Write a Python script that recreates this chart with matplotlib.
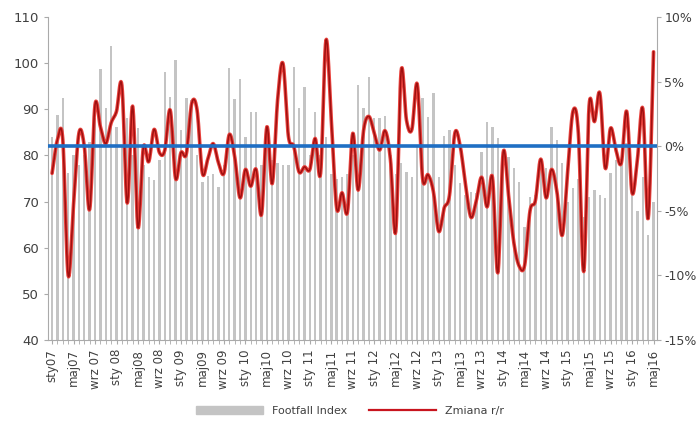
import numpy as np
import matplotlib
matplotlib.use("Agg")
import matplotlib.pyplot as plt
from matplotlib.lines import Line2D
from matplotlib.patches import Patch

# Footfall Index (left axis), monthly sty07 .. maj16
footfall = [84, 88.8, 92.4, 76.2, 80, 78, 80, 83, 88, 98.7, 90.3, 103.6,
            86.2, 82, 88.1, 80, 86, 78, 75.4, 74.7, 79, 98, 92.7, 100.7,
            85.5, 92.4, 92, 80, 74.3, 75.5, 75.9, 73.2, 78, 98.9, 92.2, 96.5,
            84, 89.3, 89.5, 78, 82, 79, 78.4, 78, 77.9, 99.2, 90.2, 94.9,
            80, 89.5, 80, 84, 76, 75, 75.4, 76, 80, 95.3, 90.3, 97,
            88, 88, 88.5, 80, 76, 78.4, 76.5, 75.4, 82, 92.4, 88.4, 93.5,
            75.4, 84.2, 85.5, 78, 74, 71.4, 72, 71.8, 80.8, 87.3, 86.2, 83.7,
            80.8, 79.7, 77.2, 74.3, 64.5, 71, 71.4, 79.4, 77.2, 86.2, 83.3, 78.3,
            70, 73, 75, 66.7, 71, 72.5, 71.4, 70.7, 76.1, 79, 78.3, 82.6,
            72, 68, 75.4, 62.8, 70]

# Zmiana r/r in % (right axis)
zmiana = [-2.1, 0.5, 0.5, -10.0, -4.5, 1.0, 0.0, -4.9, 3.2, 1.5, 0.2, 1.8,
          2.7, 4.7, -4.4, 3.1, -6.3, -0.1, -1.2, 1.3, -0.5, -0.3, 2.8, -2.5,
          -0.5, -0.6, 3.3, 2.8, -2.1, -1.0, 0.2, -1.3, -2.1, 0.9, -0.8, -4.0,
          -1.8, -3.1, -1.8, -5.3, 1.5, -2.9, 3.6, 6.4, 0.8, 0.0, -2.0, -1.6,
          -1.8, 0.6, -2.1, 8.2, 2.0, -4.8, -3.6, -5.1, 1.0, -3.4, 1.2, 2.3,
          1.0, -0.3, 1.2, -1.0, -6.6, 5.8, 2.0, 1.3, 4.8, -2.5, -2.2, -3.5,
          -6.6, -4.8, -3.8, 1.0, 0.0, -3.0, -5.5, -4.2, -2.4, -4.7, -2.4, -9.8,
          -0.5, -3.8, -7.5, -9.3, -9.2, -5.0, -4.2, -1.0, -4.0, -1.8, -3.5, -6.9,
          -2.0, 2.7, 1.0, -9.7, 3.1, 1.9, 4.1, -1.7, 1.4, -0.3, -1.3, 2.7,
          -3.6, -1.0, 2.9, -5.6, 7.3]

months = ["sty", "maj", "wrz"]
years = range(7, 17)
tick_labels = []
for y in years:
    for m in months:
        tick_labels.append(f"{m}{y:02d}" if m == "maj" else f"{m} {y:02d}")
tick_labels = tick_labels[:29]
tick_labels[0] = "sty07"


def smooth(x, y, n=12):
    # catmull-rom, like Excel's smoothed line
    x = np.asarray(x, float)
    y = np.asarray(y, float)
    px = np.concatenate([[2 * x[0] - x[1]], x, [2 * x[-1] - x[-2]]])
    py = np.concatenate([[2 * y[0] - y[1]], y, [2 * y[-1] - y[-2]]])
    xs, ys = [], []
    t = np.linspace(0, 1, n, endpoint=False)
    for i in range(1, len(px) - 2):
        for p, out in ((px, xs), (py, ys)):
            p0, p1, p2, p3 = p[i - 1], p[i], p[i + 1], p[i + 2]
            out.extend(0.5 * (2 * p1 + (-p0 + p2) * t
                              + (2 * p0 - 5 * p1 + 4 * p2 - p3) * t ** 2
                              + (-p0 + 3 * p1 - 3 * p2 + p3) * t ** 3))
    xs.append(x[-1])
    ys.append(y[-1])
    return np.array(xs), np.array(ys)


fig = plt.figure(figsize=(7, 4.23), dpi=100)
ax = fig.add_axes([0.069, 0.196, 0.87, 0.764])
x = np.arange(len(footfall))

ax.bar(x, footfall, width=0.45, color="#c4c4c4", zorder=1)
ax.set_ylim(40, 110)
ax.set_yticks(range(40, 111, 10))
ax.set_xlim(-0.7, len(footfall) - 0.3)
ax.set_xticks(x[::4])
ax.set_xticklabels(tick_labels, rotation=90, fontsize=8.5, color="#404040")
ax.set_xticks(x, minor=True)
ax.tick_params(axis="x", which="both", length=3, color="#aaaaaa")
ax.tick_params(axis="y", labelsize=9.5, colors="#404040", length=3)
ax.tick_params(axis="y", color="#aaaaaa")
for s in ["top", "right"]:
    ax.spines[s].set_visible(False)
for s in ["left", "bottom"]:
    ax.spines[s].set_color("#aaaaaa")

ax2 = ax.twinx()
ax2.set_ylim(-15, 10)
ax2.set_yticks(range(-15, 11, 5))
ax2.set_yticklabels([f"{v}%" for v in range(-15, 11, 5)])
ax2.tick_params(axis="y", labelsize=9, colors="#404040", length=3, pad=2)
ax2.tick_params(axis="y", color="#aaaaaa")
for s in ["top", "left", "bottom"]:
    ax2.spines[s].set_visible(False)
ax2.spines["right"].set_color("#aaaaaa")

sx, sy = smooth(x, zmiana)
ax2.plot(sx, sy, color="#e8413c", lw=2.6, solid_capstyle="round", zorder=3)
ax2.plot(sx, sy, color="#a01010", lw=1.1, zorder=4)
ax2.axhline(0, color="#1f6fc4", lw=2.6, zorder=5)

handles = [Patch(color="#c4c4c4", label="Footfall Index"),
           Line2D([], [], color="#c8141e", lw=1.6, label="Zmiana r/r")]
fig.legend(handles=handles, loc="center", bbox_to_anchor=(0.5, 0.028), ncol=2,
           frameon=False, fontsize=8, handlelength=6, handleheight=0.7,
           columnspacing=2, labelcolor="#404040")

fig.savefig("out.png", dpi=100)
